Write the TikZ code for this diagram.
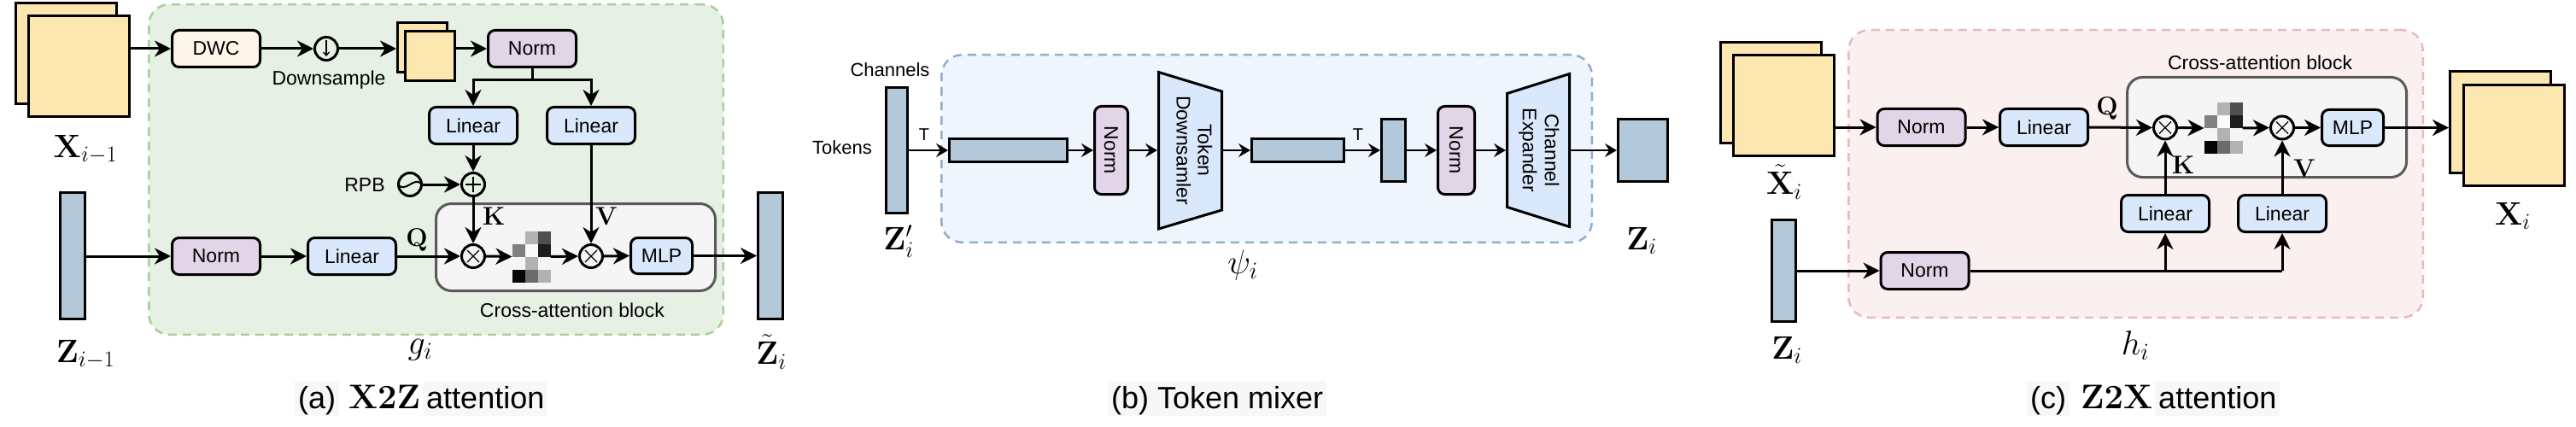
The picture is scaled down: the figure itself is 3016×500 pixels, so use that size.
\RequirePackage{fix-cm}
\documentclass[tikz,border=0pt]{standalone}
\usepackage[no-math]{fontspec}
\setmainfont{Liberation Sans}
\usepackage{graphicx}
\usetikzlibrary{arrows.meta,calc}
\definecolor{yel}{HTML}{FCE7B0}
\definecolor{barc}{HTML}{B3C9DA}
\definecolor{normc}{HTML}{E1D5E7}
\definecolor{linc}{HTML}{DAE8FC}
\definecolor{dwcc}{HTML}{FDF5E8}
\definecolor{greenf}{HTML}{E7F0E5}
\definecolor{greenl}{HTML}{A9CF96}
\definecolor{bluef}{HTML}{EFF5FC}
\definecolor{bluel}{HTML}{93ACCF}
\definecolor{pinkf}{HTML}{FBF0F0}
\definecolor{pinkl}{HTML}{E8BABA}
\definecolor{cafill}{HTML}{F5F5F5}
\definecolor{cagray}{HTML}{5A5A5A}
\definecolor{capc}{HTML}{F7F7F7}
\newcommand{\myfs}[1]{\fontsize{#1}{#1}\selectfont}
\newcommand{\mytimes}[1]{\draw[line width=1.3pt] ([shift={(-7,-7)}]#1.center) -- ([shift={(7,7)}]#1.center) ([shift={(-7,7)}]#1.center) -- ([shift={(7,-7)}]#1.center);}
\newcommand{\myplus}[1]{\draw[line width=2.6pt] ([shift={(-9,0)}]#1.center) -- ([shift={(9,0)}]#1.center) ([shift={(0,-9)}]#1.center) -- ([shift={(0,9)}]#1.center);}
\newcommand{\attmat}[1]{%
  \foreach \r/\c/\v in {0/1/30,0/2/69,1/0/50,1/1/2,1/2/89,2/1/30,3/0/98,3/1/58,3/2/30}{
    \fill[black!\v] ([shift={(\c*15,\r*15)}]#1.north west) rectangle ++(15,15);
  }}
\tikzset{
 txt/.style={inner sep=0pt, font=\myfs{23}},
 stxt/.style={inner sep=0pt, font=\myfs{22}},
 mlab/.style={inner sep=0pt, font=\myfs{38}},
 klab/.style={inner sep=0pt, font=\myfs{30}},
 box/.style={draw, line width=3pt, rounded corners=8pt, minimum width=103pt, minimum height=43pt, inner sep=0pt, font=\myfs{23}},
 normbox/.style={box, fill=normc},
 linbox/.style={box, fill=linc},
 dwcbox/.style={box, fill=dwcc},
 mlpbox/.style={box, fill=linc, minimum width=72pt, minimum height=42pt},
 bigsq/.style={draw, line width=3pt, fill=yel, minimum size=118pt, inner sep=0pt},
 smallsq/.style={draw, line width=3pt, fill=yel, minimum size=58pt, inner sep=0pt},
 bar/.style={draw, line width=3pt, fill=barc, inner sep=0pt},
 opc/.style={draw, circle, line width=3pt, minimum size=27pt, inner sep=0pt},
 cablock/.style={draw=cagray, fill=cafill, line width=3pt, rounded corners=18pt, inner sep=0pt},
 region/.style={line width=2.5pt, dash pattern=on 10pt off 7pt, rounded corners=24pt, inner sep=0pt},
 ln/.style={line width=3pt},
 lnb/.style={line width=2pt},
 arr/.style={line width=3pt, -{Stealth[length=19pt, width=19pt, inset=6pt]}},
 arrb/.style={line width=2pt, -{Stealth[length=14pt, width=16pt, inset=5pt]}},
 matc/.style={inner sep=0pt, outer sep=0pt, minimum width=45pt, minimum height=60pt},
 trapn/.style={inner sep=0pt, outer sep=0pt},
 trap/.style={line width=3pt, fill=linc, line join=miter},
 captxt/.style={inner sep=0pt, anchor=base west, font=\myfs{36}},
 capbg/.style={captxt, fill=capc, inner xsep=4pt, inner ysep=1.5pt, text height=31pt, text depth=7pt},
 capm/.style={captxt, font=\myfs{40}},
}
\begin{document}
\begin{tikzpicture}[x=1pt,y=-1pt]
\useasboundingbox (0,0) rectangle (3016,500);

% ================= (a) X2Z attention =================
\node[region, draw=greenl, fill=greenf, minimum width=672.5pt, minimum height=386.5pt] (ga) at (510.5,198.5) {};
\node[cablock, minimum width=327pt, minimum height=102pt] (cba) at (674,289.5) {};
\node[txt] (cbal) at (670,363) {Cross-attention block};

\node[bigsq] (xpb) at (77.5,63) {};
\node[bigsq] (xpf) at (92.5,78) {};
\node[mlab] (xpl) at (100,175) {$\mathbf{X}_{i-1}$};

\node[dwcbox] (dwc) at (253,57) {DWC};
\node[opc] (ds) at (382,57) {};
\draw[line width=1.3pt, -{Straight Barb[length=4pt, width=7pt]}] ([shift={(0,-10)}]ds.center) -- ([shift={(0,9)}]ds.center);
\node[txt] (dsl) at (385,94) {Downsample};
\node[smallsq] (ssb) at (494.5,56) {};
\node[smallsq] (ssf) at (503.5,65.5) {};
\node[normbox] (nt) at (623,57) {Norm};
\node[linbox] (lk) at (554,147) {Linear};
\node[linbox] (lv) at (692,147) {Linear};
\coordinate (sp) at (623,94);

\node[opc] (pl) at (554,216) {};
\myplus{pl}
\node[opc] (rpb) at (480,216) {};
\draw[line width=2pt] ([shift={(-14,0)}]rpb.center) .. controls ([shift={(-5,11)}]rpb.center) and ([shift={(5,-11)}]rpb.center) .. ([shift={(14,0)}]rpb.center);
\node[txt] (rpbl) at (427,217) {RPB};

\node[bar, minimum width=29pt, minimum height=148pt] (zp) at (85,299.5) {};
\node[mlab] (zpl) at (100,415) {$\mathbf{Z}_{i-1}$};
\node[normbox] (nq) at (253,300) {Norm};
\node[linbox] (lq) at (412,300) {Linear};
\node[klab] (ql) at (488,281) {$\mathbf{Q}$};

\node[opc] (oxa1) at (554,300) {};
\mytimes{oxa1}
\node[matc] (atta) at (622,300.5) {};
\attmat{atta}
\node[opc] (oxa2) at (692,300) {};
\mytimes{oxa2}
\node[mlpbox] (mlpa) at (774.5,299.5) {MLP};
\node[klab] (kl) at (578,253) {$\mathbf{K}$};
\node[klab] (vl) at (710,253) {$\mathbf{V}$};

\node[bar, minimum width=29pt, minimum height=148pt] (zt) at (902,299.5) {};
\node[mlab] (ztl) at (903,412) {$\tilde{\mathbf{Z}}_i$};
\node[inner sep=0pt, font=\myfs{40}] (gl) at (492,410) {$g_i$};

\draw[arr] (dwc -| xpf.east) -- (dwc.west);
\draw[arr] (dwc.east) -- (ds.west);
\draw[arr] (ds.east) -- (ds -| ssb.west);
\draw[arr] (nt -| ssf.east) -- (nt.west);
\draw[ln] (nt.south) -- (sp);
\draw[arr] (sp) -| (lk.north);
\draw[arr] (sp) -| (lv.north);
\draw[arr] (lk.south) -- (pl.north);
\draw[arr] (rpb.east) -- (pl.west);
\draw[arr] (pl.south) -- (oxa1.north);
\draw[arr] (lv.south) -- (oxa2.north);
\draw[arr] (nq -| zp.east) -- (nq.west);
\draw[arr] (nq.east) -- (lq.west);
\draw[arr] (lq.east) -- (oxa1.west);
\draw[arr] (oxa1.east) -- (atta.west);
\draw[arr] (atta.east) -- (oxa2.west);
\draw[arr] (oxa2.east) -- (mlpa.west);
\draw[arr] (mlpa.east) -- (mlpa -| zt.west);

\node[capbg] (ca1) at (345,478) {(a)};
\node[capm] (ca2) at (408,478) {$\mathbf{X2Z}$};
\node[capbg] (ca3) at (495,478) {attention};

% ================= (b) Token mixer =================
\node[region, draw=bluel, fill=bluef, minimum width=761.5pt, minimum height=219.5pt] (rb) at (1483,174) {};
\node[stxt] (chl) at (1042,82) {Channels};
\node[stxt] (tkl) at (986,173) {Tokens};
\node[bar, minimum width=25pt, minimum height=147pt] (zpb) at (1050,176) {};
\node[mlab] (zpbl) at (1052,283) {$\mathbf{Z}'_i$};
\node[bar, minimum width=138pt, minimum height=27pt] (h1) at (1180.5,176) {};
\node[stxt, font=\myfs{20}] (t1) at (1082,158) {T};
\node[normbox, minimum width=39pt, minimum height=103pt] (bn1) at (1301,176) {\rotatebox{-90}{Norm}};
\node[trapn, minimum width=77pt, minimum height=186pt] (tdn) at (1393.5,176) {};
\draw[trap] (1356.5,84.5) -- (1430.5,107) -- (1430.5,246) -- (1356.5,268) -- cycle;
\node[txt] (tdt) at (1395,176) {\rotatebox{-90}{\fontsize{23}{25}\selectfont\begin{tabular}{@{}c@{}}Token\\Downsamler\end{tabular}}};
\node[bar, minimum width=108pt, minimum height=27pt] (h2) at (1519.5,176) {};
\node[stxt, font=\myfs{20}] (t2) at (1590,158) {T};
\node[bar, minimum width=28pt, minimum height=73pt] (vb) at (1631.5,176) {};
\node[normbox, minimum width=43pt, minimum height=103pt] (bn2) at (1705,176) {\rotatebox{-90}{Norm}};
\node[trapn, minimum width=76pt, minimum height=182pt] (cen) at (1801,176) {};
\draw[trap] (1764.5,109.5) -- (1837.5,86.5) -- (1837.5,265.5) -- (1764.5,242.5) -- cycle;
\node[txt] (cet) at (1801,176) {\rotatebox{-90}{\fontsize{23}{26}\selectfont\begin{tabular}{@{}c@{}}Channel\\Expander\end{tabular}}};
\node[bar, minimum width=58pt, minimum height=73pt] (zb) at (1923.5,176) {};
\node[mlab] (zbl) at (1922,282) {$\mathbf{Z}_i$};
\node[inner sep=0pt, font=\myfs{40}] (psl) at (1455,310) {$\psi_i$};

\draw[arrb] (zpb.east |- h1) -- (h1.west);
\draw[arrb] (h1.east) -- (bn1.west);
\draw[arrb] (bn1.east) -- (tdn.west);
\draw[arrb] (tdn.east) -- (h2.west);
\draw[arrb] (h2.east) -- (vb.west);
\draw[arrb] (vb.east) -- (bn2.west);
\draw[arrb] (bn2.east) -- (cen.west);
\draw[arrb] (cen.east) -- (zb.west);

\node[capbg] (cb) at (1297,478) {(b) Token mixer};

% ================= (c) Z2X attention =================
\node[region, draw=pinkl, fill=pinkf, minimum width=672.5pt, minimum height=336.5pt] (rc) at (2500.5,203.5) {};
\node[cablock, minimum width=327pt, minimum height=117pt] (cbc) at (2654,149) {};
\node[txt] (cbcl) at (2646,73) {Cross-attention block};

\node[bigsq] (xtb) at (2073.5,108.5) {};
\node[bigsq] (xtf) at (2088.5,123.5) {};
\node[mlab] (xtl) at (2089,213) {$\tilde{\mathbf{X}}_i$};
\node[normbox] (nc1) at (2249.5,149) {Norm};
\node[linbox] (lqc) at (2393,149) {Linear};
\node[klab] (qlc) at (2467,127) {$\mathbf{Q}$};
\node[opc] (oxc1) at (2535,149.5) {};
\mytimes{oxc1}
\node[matc] (attc) at (2603,150) {};
\attmat{attc}
\node[opc] (oxc2) at (2672,149.5) {};
\mytimes{oxc2}
\node[mlpbox] (mlpc) at (2754.5,149.5) {MLP};
\node[bigsq] (xcb) at (2927.5,143) {};
\node[bigsq] (xcf) at (2943,158.5) {};
\node[mlab] (xcl) at (2942,253) {$\mathbf{X}_i$};

\node[linbox] (lkc) at (2535,250) {Linear};
\node[linbox] (lvc) at (2672,250) {Linear};
\node[klab] (klc) at (2556,193) {$\mathbf{K}$};
\node[klab] (vlc) at (2698,197) {$\mathbf{V}$};

\node[bar, minimum width=28pt, minimum height=119pt] (zc) at (2088.5,317) {};
\node[mlab] (zcl) at (2092,410) {$\mathbf{Z}_i$};
\node[normbox] (nc2) at (2253.5,317) {Norm};
\node[inner sep=0pt, font=\myfs{40}] (hl) at (2500,405) {$h_i$};

\draw[arr] (nc1 -| xtf.east) -- (nc1.west);
\draw[arr] (nc1.east) -- (lqc.west);
\draw[arr] (lqc.east) -- (oxc1.west);
\draw[arr] (oxc1.east) -- (attc.west);
\draw[arr] (attc.east) -- (oxc2.west);
\draw[arr] (oxc2.east) -- (mlpc.west);
\draw[arr] (mlpc.east) -- (mlpc -| xcb.west);
\draw[arr] (lkc.north) -- (oxc1.south);
\draw[arr] (lvc.north) -- (oxc2.south);
\draw[arr] (nc2 -| zc.east) -- (nc2.west);
\draw[ln] (nc2.east) -- (nc2 -| lvc.south) coordinate (cc);
\draw[arr] (cc) -- (lvc.south);
\draw[arr] (nc2 -| lkc.south) -- (lkc.south);

\node[capbg] (cc1) at (2373,478) {(c)};
\node[capm] (cc2) at (2436,478) {$\mathbf{Z2X}$};
\node[capbg] (cc3) at (2523,478) {attention};
\end{tikzpicture}
\end{document}
